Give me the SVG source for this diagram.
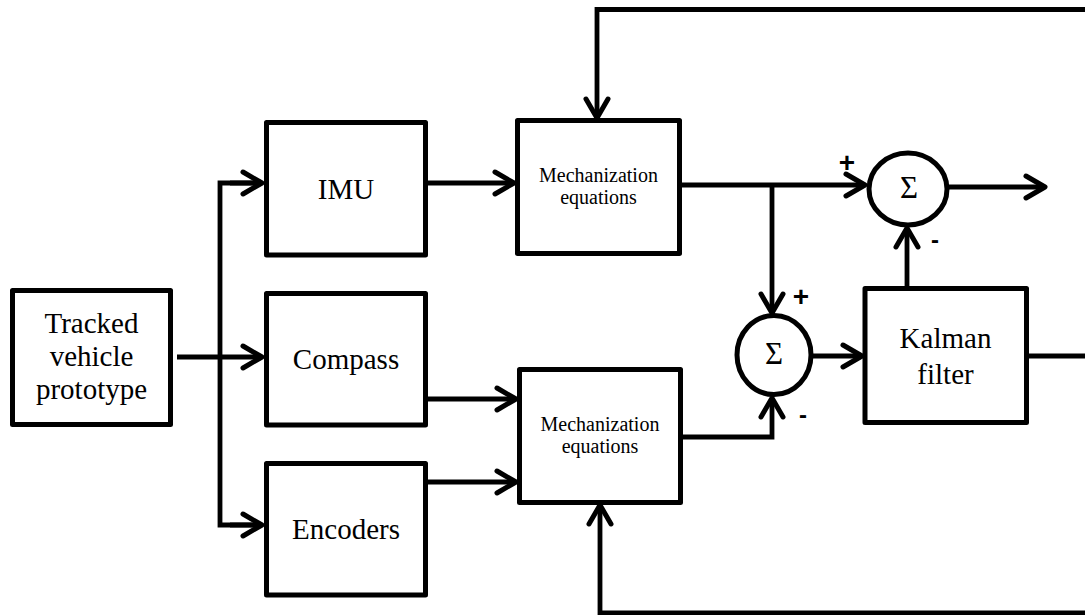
<svg xmlns="http://www.w3.org/2000/svg" width="1085" height="615" viewBox="0 0 1085 615">
<style>
.box{fill:#fff;stroke:#000;stroke-width:5;stroke-linejoin:round}
.sum{fill:#fff;stroke:#000;stroke-width:5}
.ln{fill:none;stroke:#000;stroke-width:4.8;stroke-linejoin:miter}
.arr{marker-end:url(#ah)}
.t{font-family:"Liberation Serif","Times New Roman",serif;font-size:29px;text-anchor:middle;fill:#000}
.m{font-family:"Liberation Serif","Times New Roman",serif;font-size:20px;text-anchor:middle;fill:#000}
.s{font-family:"Liberation Serif","Times New Roman",serif;font-size:31px;text-anchor:middle;fill:#000}
.sg{font-family:"Liberation Sans",Arial,sans-serif;font-size:28px;font-weight:bold;text-anchor:middle;fill:#000}
.mn{font-family:"Liberation Sans",Arial,sans-serif;font-size:24px;font-weight:bold;text-anchor:middle;fill:#000}
</style>
<defs>
<marker id="ah" markerUnits="userSpaceOnUse" markerWidth="40" markerHeight="40" refX="0" refY="0" orient="auto" overflow="visible">
<path d="M-19,-11 L0,0 L-19,11" fill="none" stroke="#000" stroke-width="5" stroke-linecap="round" stroke-linejoin="round"/>
</marker>
</defs>
<rect width="1085" height="615" fill="#fff"/>
<g id="connectors">
<path class="ln arr" d="M177,357 H262"/>
<path class="ln" d="M262,183 H220 V525 H262"/>
<path class="ln arr" d="M230,183 H262"/>
<path class="ln arr" d="M230,525 H262"/>
<path class="ln arr" d="M428,183 H514"/>
<path class="ln arr" d="M682,185 H865"/>
<path class="ln arr" d="M772,185 V313"/>
<path class="ln arr" d="M428,399 H516"/>
<path class="ln arr" d="M428,482 H516"/>
<path class="ln arr" d="M683,437 H772 V398"/>
<path class="ln arr" d="M813,356 H862"/>
<path class="ln arr" d="M907,286 V228"/>
<path class="ln arr" d="M948,187 H1045"/>
<path class="ln" d="M1028,356 H1090"/>
<path class="ln arr" d="M1090,9.5 H597 V118"/>
<path class="ln arr" d="M1090,613 H600 V505"/>
</g>
<g id="tracked">
<rect class="box" x="12.5" y="290.5" width="158" height="134"/>
<text class="t" x="91.5" y="333">Tracked</text>
<text class="t" x="91.5" y="366">vehicle</text>
<text class="t" x="91.5" y="399">prototype</text>
</g>
<g id="imu">
<rect class="box" x="266.5" y="122.5" width="159" height="132.5"/>
<text class="t" x="346" y="199">IMU</text>
</g>
<g id="compass">
<rect class="box" x="266.5" y="293.5" width="159" height="131.5"/>
<text class="t" x="346" y="369">Compass</text>
</g>
<g id="encoders">
<rect class="box" x="266.5" y="463.5" width="159" height="131.5"/>
<text class="t" x="346" y="539">Encoders</text>
</g>
<g id="mech1">
<rect class="box" x="517.5" y="120.5" width="162" height="133"/>
<text class="m" x="598.5" y="182">Mechanization</text>
<text class="m" x="598.5" y="204">equations</text>
</g>
<g id="mech2">
<rect class="box" x="519.5" y="369.5" width="161" height="133"/>
<text class="m" x="600" y="431">Mechanization</text>
<text class="m" x="600" y="453">equations</text>
</g>
<g id="sum1">
<ellipse class="sum" cx="908" cy="189" rx="39" ry="36"/>
<text class="s" x="909" y="198">Σ</text>
<text class="sg" x="847" y="172">+</text>
<text class="mn" x="935" y="248">-</text>
</g>
<g id="sum2">
<ellipse class="sum" cx="774" cy="355" rx="37" ry="39.5"/>
<text class="s" x="774" y="364">Σ</text>
<text class="sg" x="801" y="306">+</text>
<text class="mn" x="803" y="423">-</text>
</g>
<g id="kalman">
<rect class="box" x="865" y="288.5" width="161.5" height="134"/>
<text class="t" x="945.5" y="348">Kalman</text>
<text class="t" x="945.5" y="384">filter</text>
</g>
</svg>
